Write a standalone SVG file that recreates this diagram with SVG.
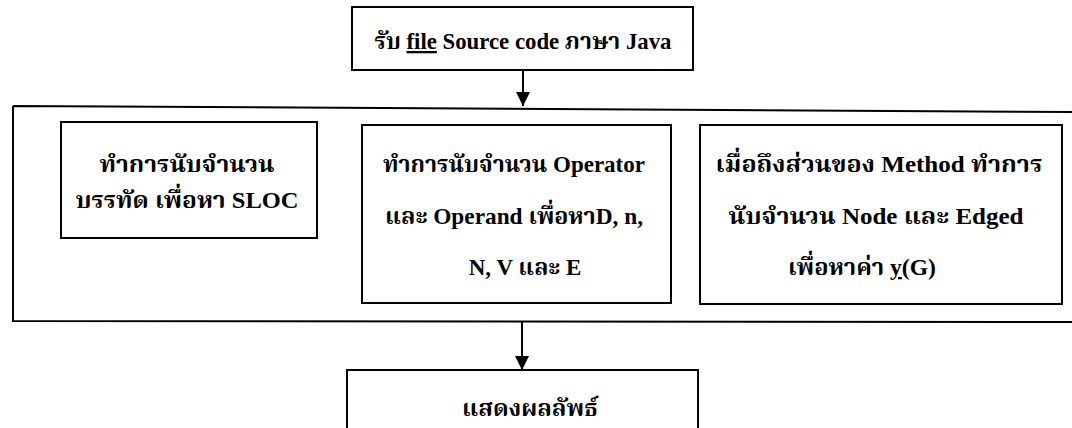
<svg xmlns="http://www.w3.org/2000/svg" width="1072" height="428" viewBox="0 0 1072 428">
  <style>
    .box { fill: #ffffff; stroke: #000000; stroke-width: 2; }
    .frame { fill: none; stroke: #000000; stroke-width: 2; }
    .lbl { font-family: "Liberation Serif", "Noto Serif Thai", "Noto Sans Thai", "DejaVu Serif", serif; font-size: 23px; font-weight: bold; fill: #000000; text-anchor: middle; }
    .edge { stroke: #000000; stroke-width: 2; fill: none; marker-end: url(#head); }
    .squig { text-decoration: underline; text-decoration-style: dotted; }
    .ul { text-decoration: underline; }
  </style>
  <defs>
    <marker id="head" viewBox="0 0 10 10" refX="10" refY="5" markerWidth="7" markerHeight="7" markerUnits="strokeWidth" orient="auto">
      <path d="M0,0 L10,5 L0,10 Z" fill="#000000"/>
    </marker>
  </defs>

  <!-- processing frame that groups the three counting steps -->
  <path id="frame" class="frame" d="M13,106 L1074,112 M13,106 L13,321 L1074,322"/>

  <g id="input">
    <rect class="box" x="352" y="7" width="341" height="63"/>
    <text class="lbl" x="523" y="49" textLength="297" lengthAdjust="spacingAndGlyphs">รับ <tspan class="squig">file</tspan> Source code ภาษา Java</text>
  </g>

  <g id="sloc">
    <rect class="box" x="61" y="122" width="256" height="116"/>
    <text class="lbl" x="187" y="172" textLength="175" lengthAdjust="spacingAndGlyphs">ทำการนับจำนวน</text>
    <text class="lbl" x="187" y="208" textLength="223" lengthAdjust="spacingAndGlyphs">บรรทัด เพื่อหา SLOC</text>
  </g>

  <g id="halstead">
    <rect class="box" x="362" y="125" width="309" height="178"/>
    <text class="lbl" x="514" y="172" textLength="262" lengthAdjust="spacingAndGlyphs">ทำการนับจำนวน Operator</text>
    <text class="lbl" x="514" y="224" textLength="258" lengthAdjust="spacingAndGlyphs">และ Operand เพื่อหาD, n,</text>
    <text class="lbl" x="525" y="275">N, V และ E</text>
  </g>

  <g id="cyclomatic">
    <rect class="box" x="700" y="125" width="362" height="179"/>
    <text class="lbl" x="879" y="172" textLength="327" lengthAdjust="spacingAndGlyphs">เมื่อถึงส่วนของ Method ทำการ</text>
    <text class="lbl" x="876" y="224" textLength="295" lengthAdjust="spacingAndGlyphs">นับจำนวน Node และ Edged</text>
    <text class="lbl" x="862" y="275" textLength="148" lengthAdjust="spacingAndGlyphs">เพื่อหาค่า <tspan class="ul">y</tspan>(G)</text>
  </g>

  <g id="output">
    <rect class="box" x="347" y="370" width="351" height="70"/>
    <text class="lbl" x="530" y="416" textLength="136" lengthAdjust="spacingAndGlyphs">แสดงผลลัพธ์</text>
  </g>

  <g id="connectors">
    <line class="edge" x1="523" y1="70" x2="523" y2="106"/>
    <line class="edge" x1="522" y1="321" x2="522" y2="370"/>
  </g>
</svg>
